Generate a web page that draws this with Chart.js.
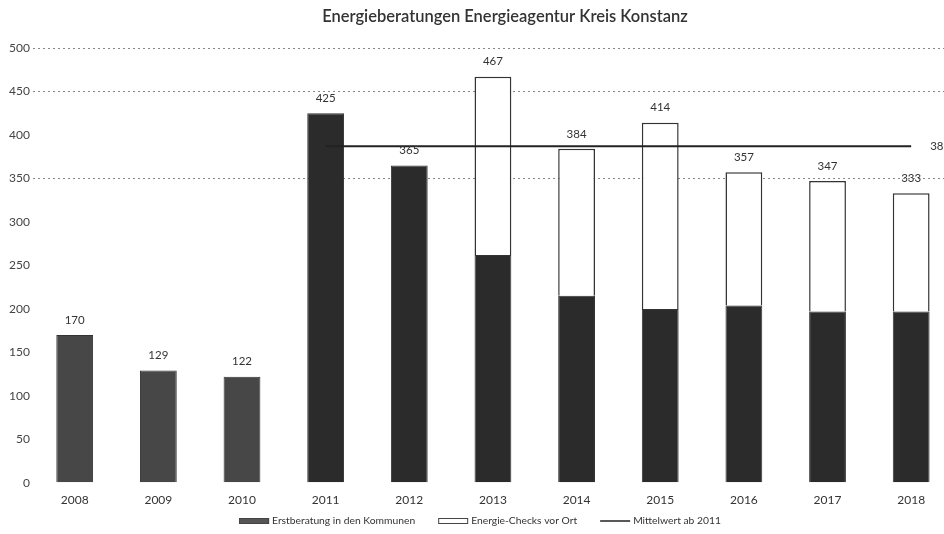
<!DOCTYPE html>
<html><head><meta charset="utf-8">
<script src="https://cdn.jsdelivr.net/npm/chart.js@4.4.0/dist/chart.umd.min.js"></script>
<style>
html,body{margin:0;padding:0;background:#fff;overflow:hidden;width:944px;height:534px}
#wrap{position:absolute;left:0;top:0;width:956px;height:534px}
</style>
</head><body>
<div id="wrap"><canvas id="c"></canvas></div>
<script>
const titleText = 'Energieberatungen Energieagentur Kreis Konstanz';
const years = ['2008','2009','2010','2011','2012','2013','2014','2015','2016','2017','2018'];
const erstberatung = [170,129,122,425,365,262,215,200,204,197,197];
const energieChecks = [0,0,0,0,0,205,169,214,153,150,136];
const mittelwert = [null,null,null,387,387,387,387,387,387,387,387];
const seriesNames = ['Erstberatung in den Kommunen','Energie-Checks vor Ort','Mittelwert ab 2011'];
const gridValues = [500,450,350];
const meanLabel = '387';

const FONT = 'Lato, "Open Sans", sans-serif';

const labelPlugin = {
  id: 'labels',
  afterDatasetsDraw(chart) {
    const ctx = chart.ctx;
    const y = chart.scales.y;
    const meta0 = chart.getDatasetMeta(0);
    ctx.save();
    ctx.font = '11.5px ' + FONT;
    ctx.fillStyle = '#333';
    ctx.textAlign = 'center';
    ctx.textBaseline = 'middle';
    years.forEach((yr, i) => {
      const total = erstberatung[i] + energieChecks[i];
      const x = meta0.data[i].x;
      ctx.fillText(String(total), x, y.getPixelForValue(total) - 15);
    });
    const meta2 = chart.getDatasetMeta(2);
    const last = meta2.data[meta2.data.length - 1];
    ctx.textAlign = 'left';
    ctx.fillText(meanLabel, last.x + 19, last.y);
    ctx.restore();
  }
};

const titlePlugin = {
  id: 'ttl',
  afterDraw(chart) {
    const ctx = chart.ctx;
    ctx.save();
    ctx.font = '600 16.5px ' + FONT;
    ctx.fillStyle = '#333';
    ctx.textAlign = 'center';
    ctx.textBaseline = 'middle';
    ctx.fillText(titleText, 505, 17);
    ctx.restore();
  }
};

// legend drawn from the datasets' own labels and styles
const legendPlugin = {
  id: 'lgd',
  afterDraw(chart) {
    const ctx = chart.ctx;
    ctx.save();
    ctx.font = '10.3px ' + FONT;
    ctx.textBaseline = 'middle';
    ctx.textAlign = 'left';
    const boxW = 30, gapText = 3, gapItem = 23, cy = 521, centerX = 480;
    const widths = seriesNames.map(n => boxW + gapText + ctx.measureText(n).width);
    const total = widths.reduce((a, b) => a + b, 0) + gapItem * (widths.length - 1);
    let x = centerX - total / 2;
    chart.data.datasets.forEach((ds, i) => {
      if (ds.type === 'line') {
        ctx.strokeStyle = ds.borderColor;
        ctx.lineWidth = 1.5;
        ctx.beginPath();
        ctx.moveTo(x, cy);
        ctx.lineTo(x + boxW, cy);
        ctx.stroke();
      } else {
        ctx.fillStyle = i === 0 ? '#555' : '#ffffff';
        ctx.fillRect(x, cy - 3, boxW, 6);
        ctx.strokeStyle = '#444';
        ctx.lineWidth = 1;
        ctx.strokeRect(x + 0.5, cy - 2.5, boxW - 1, 5);
      }
      ctx.fillStyle = '#333';
      ctx.fillText(ds.label, x + boxW + gapText, cy);
      x += widths[i] + gapItem;
    });
    ctx.restore();
  }
};

const darkColors = years.map((y, i) => i < 3 ? '#474747' : '#2b2b2b');

new Chart(document.getElementById('c'), {
  type: 'bar',
  data: {
    labels: years,
    datasets: [
      {
        label: seriesNames[0],
        data: erstberatung,
        backgroundColor: darkColors,
        borderColor: '#333',
        borderWidth: 1,
        stack: 's',
        categoryPercentage: 1,
        barPercentage: 0.44,
        order: 1
      },
      {
        label: seriesNames[1],
        data: energieChecks,
        backgroundColor: '#ffffff',
        borderColor: '#333',
        borderWidth: 1.5,
        stack: 's',
        categoryPercentage: 1,
        barPercentage: 0.44,
        order: 2
      },
      {
        type: 'line',
        label: seriesNames[2],
        data: mittelwert,
        borderColor: '#222',
        backgroundColor: '#222',
        borderWidth: 2,
        pointRadius: 0,
        stack: 'mean',
        order: 0
      }
    ]
  },
  options: {
    responsive: true,
    maintainAspectRatio: false,
    animation: false,
    layout: { padding: { left: 6, right: 3, top: 48, bottom: 16.8 } },
    plugins: {
      title: { display: false },
      tooltip: { enabled: false },
      legend: { display: false }
    },
    scales: {
      x: {
        stacked: true,
        grid: { display: false, drawTicks: false },
        border: { display: false },
        ticks: { color: '#333', font: { family: FONT, size: 12 }, padding: 10 }
      },
      y: {
        stacked: true,
        min: 0,
        max: 500,
        grid: {
          color: (c) => gridValues.includes(c.tick && c.tick.value) ? '#888' : 'rgba(0,0,0,0)',
          lineWidth: 1,
          drawTicks: false
        },
        border: { display: false, dash: [2, 3] },
        ticks: { stepSize: 50, color: '#444', font: { family: FONT, size: 12 }, padding: 3 }
      }
    }
  },
  plugins: [labelPlugin, titlePlugin, legendPlugin]
});
</script>
</body></html>
